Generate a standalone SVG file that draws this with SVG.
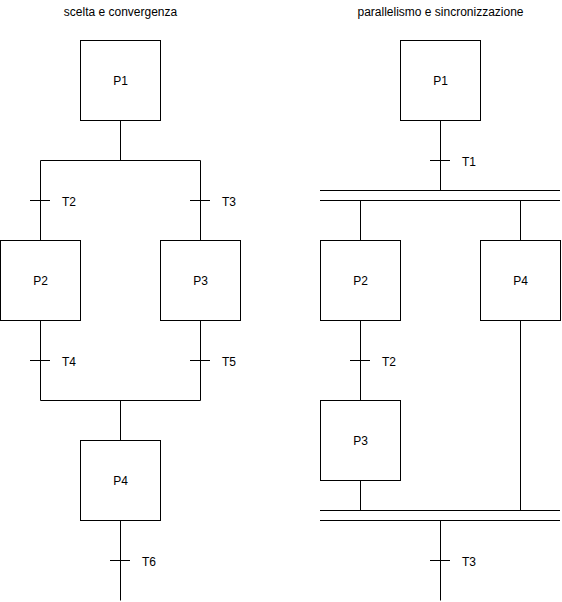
<svg xmlns="http://www.w3.org/2000/svg" width="562" height="602" viewBox="0 0 562 602">
<style>
.b{fill:#fff;stroke:#000;stroke-width:1}
.l{stroke:#000;stroke-width:1;fill:none}
.t{font-family:"Liberation Sans",Arial,sans-serif;font-size:12px;fill:#000}
.c{text-anchor:middle}
</style>
<rect width="562" height="602" fill="#fff"/>
<text class="t c" x="120.5" y="16">scelta e convergenza</text>
<text class="t c" x="440.5" y="16">parallelismo e sincronizzazione</text>
<g id="connectors">
<path class="l" d="M120.5 120.5V160.5M40.5 160.5H200.5M40.5 160.5V240.5M200.5 160.5V240.5M30 200.5H50M190 200.5H210"/>
<path class="l" d="M40.5 320.5V400.5M200.5 320.5V400.5M40.5 400.5H200.5M120.5 400.5V440.5M30 360.5H50M190 360.5H210"/>
<path class="l" d="M120.5 520.5V600.5M110 560.5H130"/>
<path class="l" d="M440.5 120.5V190.5M430 160.5H450M320 190.5H560M320 200.5H560M360.5 200.5V240.5M520.5 200.5V240.5"/>
<path class="l" d="M360.5 320.5V400.5M350 360.5H370M360.5 480.5V510.5M520.5 320.5V510.5M320 510.5H560M320 520.5H560M440.5 520.5V600.5M430 560.5H450"/>
</g>
<g id="t2"><text class="t" x="62" y="206">T2</text></g>
<g id="t3"><text class="t" x="222" y="206">T3</text></g>
<g id="t4"><text class="t" x="62" y="366">T4</text></g>
<g id="t5"><text class="t" x="222" y="366">T5</text></g>
<g id="t6"><text class="t" x="142" y="566">T6</text></g>
<g id="rt1"><text class="t" x="462" y="166">T1</text></g>
<g id="rt2"><text class="t" x="382" y="366">T2</text></g>
<g id="rt3"><text class="t" x="462" y="566">T3</text></g>
<g id="lp1"><rect class="b" x="80.5" y="40.5" width="80" height="80"/><text class="t c" x="120.5" y="85">P1</text></g>
<g id="lp2"><rect class="b" x="0.5" y="240.5" width="80" height="80"/><text class="t c" x="40.5" y="285">P2</text></g>
<g id="lp3"><rect class="b" x="160.5" y="240.5" width="80" height="80"/><text class="t c" x="200.5" y="285">P3</text></g>
<g id="lp4"><rect class="b" x="80.5" y="440.5" width="80" height="80"/><text class="t c" x="120.5" y="485">P4</text></g>
<g id="rp1"><rect class="b" x="400.5" y="40.5" width="80" height="80"/><text class="t c" x="440.5" y="85">P1</text></g>
<g id="rp2"><rect class="b" x="320.5" y="240.5" width="80" height="80"/><text class="t c" x="360.5" y="285">P2</text></g>
<g id="rp4"><rect class="b" x="480.5" y="240.5" width="80" height="80"/><text class="t c" x="520.5" y="285">P4</text></g>
<g id="rp3"><rect class="b" x="320.5" y="400.5" width="80" height="80"/><text class="t c" x="360.5" y="445">P3</text></g>
</svg>
